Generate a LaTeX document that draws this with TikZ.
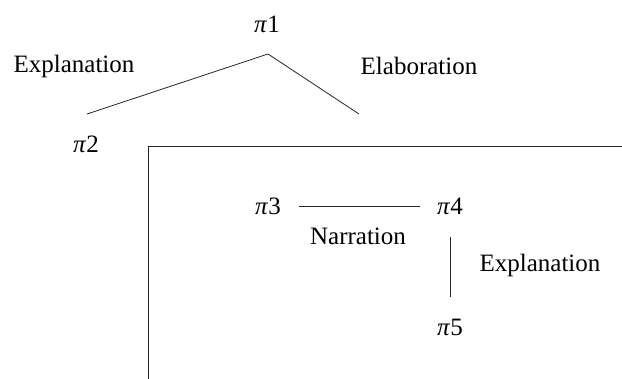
\documentclass[tikz,border=0pt]{standalone}
\usepackage{fontspec}
\setmainfont{Liberation Serif}
\begin{document}
\begin{tikzpicture}[x=1pt,y=-1pt,
  lbl/.style={anchor=base,inner sep=0pt,font=\fontsize{25}{30}\selectfont},
  seg/.style={line width=0.8pt,black!85}]
\useasboundingbox (0,0) rectangle (622,379);
% discourse units
\node[lbl] (p1) at (267,33) {\textit{π}1};
\node[lbl] (p2) at (86,153) {\textit{π}2};
\node[lbl] (p3) at (268,215) {\textit{π}3};
\node[lbl] (p4) at (450,215) {\textit{π}4};
\node[lbl] (p5) at (450,336) {\textit{π}5};
% relation labels
\node[lbl] (l1) at (74,73) {Explanation};
\node[lbl] (l2) at (419,75) {Elaboration};
\node[lbl] (l3) at (358,245) {Narration};
\node[lbl] (l4) at (540,272) {Explanation};
% branch ends
\coordinate (top) at (268,54);
\coordinate (lend) at (87,114);
\coordinate (rend) at (359,114);
\coordinate (nl) at (299,206);
\coordinate (nr) at (420,206);
\coordinate (vt) at (450,237);
\coordinate (vb) at (450,297);
\coordinate (bx) at (148,379);
\coordinate (bc) at (148,146);
\coordinate (by) at (622,146);
% tree branches
\draw[seg] (lend) -- (top) -- (rend);
\draw[seg] (nl) -- (nr);
\draw[seg] (vt) -- (vb);
% subordinate box
\draw[seg] (bx) -- (bc) -- (by);
\end{tikzpicture}
\end{document}
